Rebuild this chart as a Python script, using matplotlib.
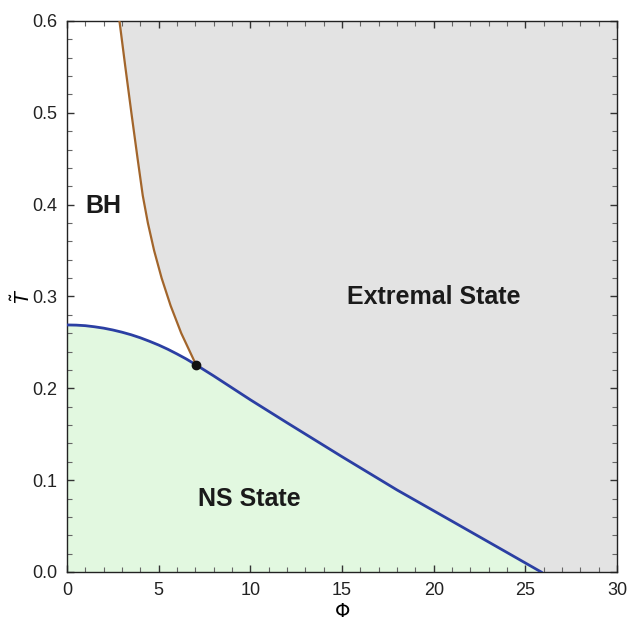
import numpy as np
import matplotlib.pyplot as plt

plt.rcParams['font.family'] = ['Liberation Sans', 'DejaVu Sans']

# Boundary between NS state and the rest (blue line)
ns_phi = [0, 0.5, 1, 1.5, 2, 2.5, 3, 3.5, 4, 4.5, 5, 5.5, 6, 6.5, 7.04,
          8, 10, 12, 15, 18, 21, 24, 25.86]
ns_T = [0.269, 0.2688, 0.2682, 0.2670, 0.2655, 0.2635, 0.2611, 0.2583,
        0.2550, 0.2512, 0.2471, 0.2425, 0.2374, 0.2320, 0.2255,
        0.2135, 0.1875, 0.1625, 0.1255, 0.0893, 0.0553, 0.0212, 0.0]

# Boundary between BH and extremal state (brown line)
bh_phi = [2.86, 3.18, 3.51, 3.85, 4.13, 4.41, 4.75, 5.16, 5.65, 6.23, 7.04]
bh_T = [0.60, 0.55, 0.50, 0.45, 0.41, 0.38, 0.35, 0.32, 0.29, 0.26, 0.2255]

# Triple point
tp_phi, tp_T = 7.04, 0.2255

xmax, ymax = 30, 0.6

fig = plt.figure(figsize=(6.27, 6.26), dpi=100)
ax = fig.add_axes([0.1069, 0.0863, 0.8772, 0.8802])

# NS state region under the blue line
ax.fill_between(ns_phi, ns_T, 0, color='#e2f8e0', lw=0, zorder=1)

# Extremal state region right of the brown line / above the blue line
i_tp = ns_phi.index(tp_phi)
gx = bh_phi + ns_phi[i_tp + 1:] + [xmax, xmax]
gy = bh_T + ns_T[i_tp + 1:] + [0, ymax]
ax.fill(gx, gy, color='#e3e3e3', lw=0, zorder=1)

ax.plot(ns_phi, ns_T, color='#2b3fa3', lw=2.0, zorder=3)
ax.plot(bh_phi, bh_T, color='#a2652b', lw=1.6, zorder=3)
ax.plot(tp_phi, tp_T, 'o', color='#111111', ms=6, zorder=4)

ax.text(1.99, 0.399, 'BH', fontsize=18, fontweight='bold', ha='center', va='center', color='#1a1a1a')
ax.text(19.98, 0.2996, 'Extremal State', fontsize=18, fontweight='bold', ha='center', va='center', color='#1a1a1a')
ax.text(9.96, 0.079, 'NS State', fontsize=18, fontweight='bold', ha='center', va='center', color='#1a1a1a')

ax.set_xlim(0, xmax)
ax.set_ylim(0, ymax)
ax.set_xticks(np.arange(0, 31, 5))
ax.set_xticks(np.arange(0, 31, 1), minor=True)
ax.set_yticks(np.arange(0, 0.61, 0.1))
ax.set_yticks(np.arange(0, 0.61, 0.02), minor=True)
ax.set_yticklabels(['0.0', '0.1', '0.2', '0.3', '0.4', '0.5', '0.6'])
ax.tick_params(which='both', direction='in', top=True, right=True,
               labelsize=13, labelcolor='#222222', color='#333333')
ax.tick_params(which='major', length=5, width=1, pad=7)
ax.tick_params(which='minor', length=3.5, width=0.8, color='#666666')
for s in ax.spines.values():
    s.set_linewidth(1.0)
    s.set_color('#222222')

ax.set_xlabel(r'$\Phi$', fontsize=14, labelpad=3)
ax.set_ylabel(r'$\tilde{T}$', fontsize=14)
ax.yaxis.set_label_coords(-0.06, 0.5)

fig.savefig('out.png', dpi=100)
